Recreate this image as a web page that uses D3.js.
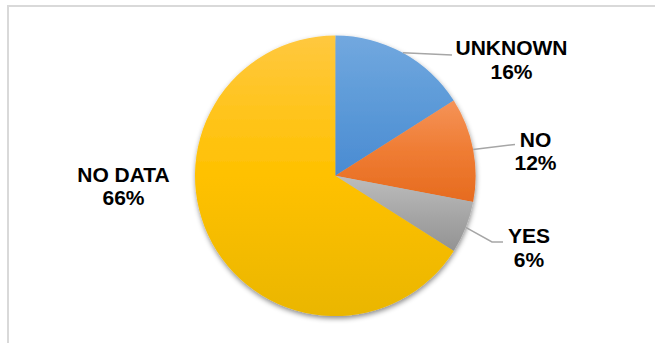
<!DOCTYPE html>
<html>
<head>
<meta charset="utf-8">
<script src="https://cdn.jsdelivr.net/npm/d3@7"></script>
<style>
  html, body { margin: 0; padding: 0; background: #fff; }
  svg { display: block; }
</style>
</head>
<body>
<div id="chart"></div>
<script>
const categories = ["UNKNOWN", "NO", "YES", "NO DATA"];
const values = [16, 12, 6, 66];
const percentLabels = ["16%", "12%", "6%", "66%"];

const W = 655, H = 343;
const cx = 335.3, cy = 175.8, R = 140.3;

// gradient colours per slice (top, middle, bottom)
const gradStops = [
  ["#72a8df", "#5c9ad8", "#4a8bd2"],
  ["#f59358", "#ef7c33", "#e66b1f"],
  ["#bdbdbd", "#a7a7a7", "#939393"],
  ["#ffc83f", "#ffc100", "#eab600"]
];

// label layout: text centre x, first baseline y, leader elbow & end
const labelLayout = [
  { x: 511.5, y: 55, line: [[452, 55]] },
  { x: 535.5, y: 146.7, line: [[515, 144.5]] },
  { x: 529, y: 243.3, line: [[492, 242], [503, 242]] },
  { x: 123.5, y: 181.7, line: null }
];

const svg = d3.select("#chart").append("svg")
  .attr("width", W).attr("height", H);

const defs = svg.append("defs");
gradStops.forEach((s, i) => {
  const g = defs.append("linearGradient")
    .attr("id", "g" + i).attr("x1", 0).attr("y1", 0).attr("x2", 0).attr("y2", 1);
  g.append("stop").attr("offset", "0%").attr("stop-color", s[0]);
  g.append("stop").attr("offset", "50%").attr("stop-color", s[1]);
  g.append("stop").attr("offset", "100%").attr("stop-color", s[2]);
});
const f = defs.append("filter").attr("id", "shadow")
  .attr("x", "-10%").attr("y", "-10%").attr("width", "120%").attr("height", "120%");
f.append("feDropShadow").attr("dx", 0.5).attr("dy", 2.5)
  .attr("stdDeviation", 2.6).attr("flood-color", "#000").attr("flood-opacity", 0.45);

// chart border
svg.append("rect")
  .attr("x", 8).attr("y", 6).attr("width", 700).attr("height", 400)
  .attr("fill", "none").attr("stroke", "#d9d9d9").attr("stroke-width", 2);

const data = categories.map((c, i) => ({ cat: c, value: values[i], label: percentLabels[i], i }));
const pie = d3.pie().sort(null).value(d => d.value);
const arcs = pie(data);
const arc = d3.arc().innerRadius(0).outerRadius(R);
const edgeArc = d3.arc().innerRadius(R).outerRadius(R);

const g = svg.append("g").attr("transform", `translate(${cx},${cy})`);
const sg = g.append("g").attr("filter", "url(#shadow)");
sg.selectAll("path.slice").data(arcs).enter().append("path")
  .attr("class", "slice")
  .attr("d", arc)
  .attr("fill", d => `url(#g${d.data.i})`);

// leader lines
const lineGen = d3.line();
arcs.forEach(d => {
  const L = labelLayout[d.data.i];
  if (!L.line) return;
  const c = edgeArc.centroid(d);
  const pts = [[c[0] + cx, c[1] + cy]].concat(L.line);
  svg.append("path")
    .attr("d", lineGen(pts))
    .attr("fill", "none").attr("stroke", "#a6a6a6").attr("stroke-width", 1.5);
});

// labels
const lab = svg.append("g")
  .attr("font-family", "'Liberation Sans', Arial, sans-serif")
  .attr("font-weight", "bold").attr("font-size", 21).attr("fill", "#000")
  .attr("text-anchor", "middle");
data.forEach(d => {
  const L = labelLayout[d.i];
  const t = lab.append("text").attr("x", L.x).attr("y", L.y);
  t.append("tspan").attr("x", L.x).text(d.cat);
  t.append("tspan").attr("x", L.x).attr("dy", 23.5).text(d.label);
});
</script>
</body>
</html>
